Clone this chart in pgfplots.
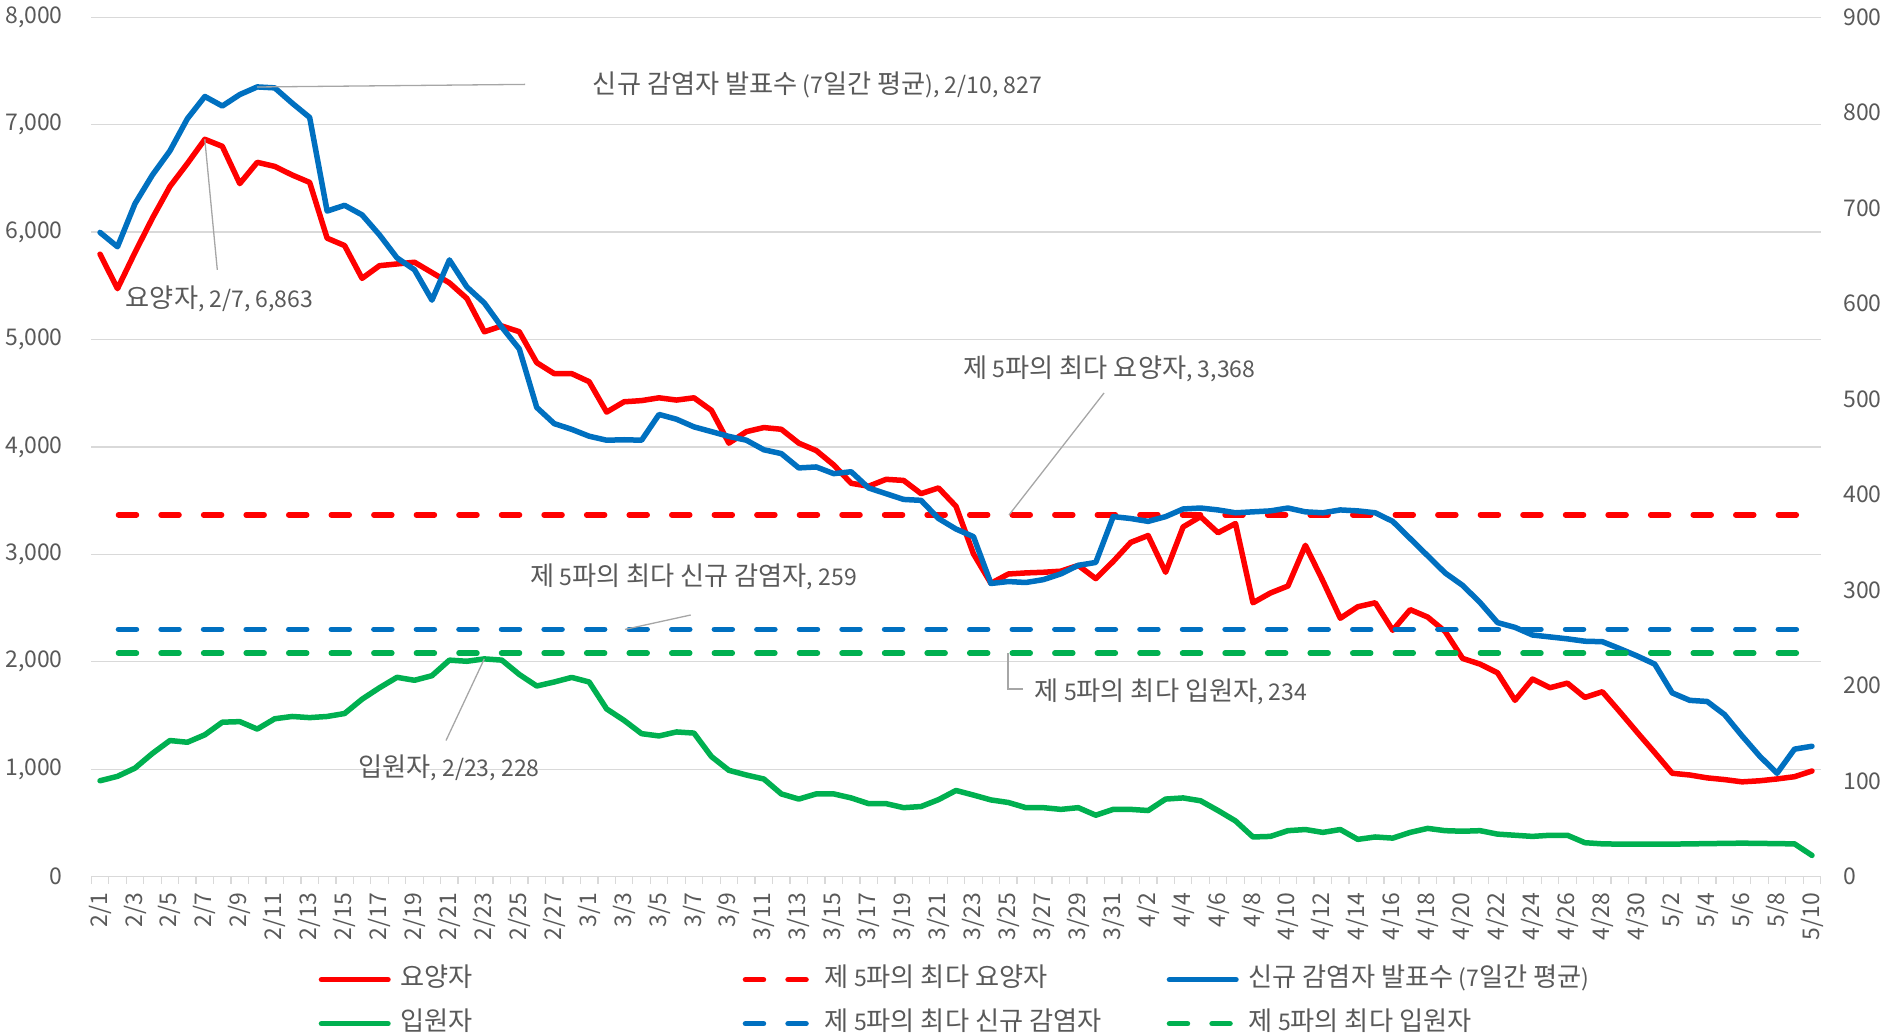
\documentclass[border=0pt]{standalone}
\usepackage{fontspec}
\setmainfont{Noto Sans CJK KR}
\newfontfamily\kr{Noto Sans CJK KR}[Scale=1.14]
\usepackage{pgfplots}
\usepackage{pgfplotstable}
\pgfplotsset{compat=1.18}
\definecolor{cred}{HTML}{FF0000}
\definecolor{cblue}{HTML}{0070C0}
\definecolor{cgreen}{HTML}{00B050}
\definecolor{txt}{HTML}{595959}
\definecolor{gridc}{HTML}{D9D9D9}
\definecolor{lead}{HTML}{A6A6A6}
\newcommand\fs{\fontsize{11.5pt}{13pt}\selectfont}

\pgfplotstableread{
d v
0 5794
1 5473
2 5810
3 6130
4 6424
5 6638
6 6863
7 6798
8 6451
9 6649
10 6611
11 6531
12 6462
13 5943
14 5874
15 5569
16 5687
17 5703
18 5719
19 5623
20 5527
21 5382
22 5072
23 5126
24 5072
25 4784
26 4682
27 4682
28 4607
29 4324
30 4420
31 4431
32 4457
33 4436
34 4457
35 4340
36 4035
37 4142
38 4180
39 4164
40 4035
41 3966
42 3832
43 3661
44 3634
45 3698
46 3688
47 3565
48 3618
49 3447
50 3004
51 2730
52 2817
53 2827
54 2833
55 2843
56 2897
57 2774
58 2934
59 3111
60 3175
61 2833
62 3255
63 3351
64 3201
65 3287
66 2549
67 2640
68 2705
69 3084
70 2753
71 2405
72 2512
73 2549
74 2293
75 2485
76 2416
77 2282
78 2031
79 1978
80 1897
81 1641
82 1839
83 1758
84 1801
85 1668
86 1721
87 1534
88 1342
89 1154
90 962
91 946
92 919
93 903
94 882
95 892
96 909
97 930
98 983
}\tred

\pgfplotstableread{
d v
0 674.6
1 659.6
2 704.7
3 734.8
4 760
5 793.7
6 817
7 807
8 819
9 827
10 826
11 810
12 795
13 697
14 703
15 693
16 672
17 648
18 635.5
19 603.7
20 645.8
21 617.5
22 600.7
23 575.4
24 552.6
25 491.3
26 474.4
27 468.4
28 461.2
29 457
30 457.5
31 457
32 484
33 479
34 471
35 466
36 461
37 457
38 447
39 443
40 428
41 429
42 422
43 424
44 407
45 401
46 395
47 394
48 375
49 364
50 356
51 307
52 309
53 308
54 311
55 317
56 326
57 329
58 377
59 375
60 372
61 377
62 385
63 386
64 384
65 381
66 382
67 383
68 386
69 382
70 381
71 384
72 383
73 381
74 372
75 354
76 336
77 318
78 305
79 287
80 266
81 261
82 253
83 251
84 249
85 246.5
86 246
87 238.7
88 231
89 222.5
90 192.4
91 184.6
92 183.4
93 169.6
94 147.3
95 126.3
96 108.2
97 133.5
98 136.5
}\tblue

\pgfplotstableread{
d v
0 100.4
1 105
2 113.6
3 129
4 142.5
5 140.7
6 148.5
7 161.7
8 162.3
9 154.5
10 165.3
11 167.7
12 166.5
13 167.7
14 170.8
15 185.8
16 197.8
17 208.7
18 205.6
19 210.4
20 226.7
21 225.5
22 228
23 226.7
24 211.7
25 199.6
26 203.8
27 208.6
28 203.8
29 175.6
30 163.6
31 149.7
32 147.3
33 151.5
34 150.3
35 125.7
36 111.3
37 106.4
38 102.2
39 86.6
40 81.2
41 86.6
42 86.6
43 82.4
44 76.4
45 76.4
46 72.2
47 73.4
48 80.6
49 90.2
50 85.4
51 80.3
52 77.6
53 72.2
54 72.2
55 70.4
56 72.2
57 64.3
58 70.4
59 70.4
60 69.2
61 81.2
62 82.4
63 79.4
64 69.2
65 58.3
66 41.5
67 42.1
68 48.1
69 49.3
70 46.3
71 49.3
72 39
73 41.5
74 40.3
75 46.3
76 50.5
77 48.1
78 47.5
79 48.1
80 44.5
81 43.3
82 42.1
83 43.3
84 43.3
85 35.5
86 34.3
87 34
88 34
89 34
90 34
91 34.3
92 34.5
93 34.8
94 35
95 34.8
96 34.5
97 34.3
98 22.2
}\tgreen

\pgfplotstableread{
d v
0 3368
98 3368
}\tredmax
\pgfplotstableread{
d v
0 259
98 259
}\tbluemax
\pgfplotstableread{
d v
0 234
98 234
}\tgreenmax

\pgfplotsset{
  base/.style={scale only axis, width=864.7pt, height=429.7pt,
    at={(45.65pt,78.7pt)}, anchor=south west,
    xmin=-0.5, xmax=98.5, no markers,
    /pgf/number format/assume math mode=true,
    /pgf/number format/1000 sep={,},
    scaled y ticks=false,
    tick label style={font=\fs, text=txt},
    major tick length=0pt,
    every axis plot/.append style={line join=round}},
  sred/.style={draw=cred, line width=2.75pt, line cap=round},
  sblue/.style={draw=cblue, line width=2.75pt, line cap=round},
  sgreen/.style={draw=cgreen, line width=2.75pt, line cap=round},
  dashp/.style={line width=2.75pt, line cap=round, dash pattern=on 9pt off 12.28pt},
}

\begin{document}
\begin{tikzpicture}
\useasboundingbox (0,0) rectangle (949.5pt,517pt);
\begin{axis}[base,
  ymin=0, ymax=8000, ytick={0,1000,...,8000},
  axis x line*=bottom, axis y line*=left,
  y axis line style={draw=none},
  x axis line style={draw=gridc, line width=0.65pt},
  ymajorgrids, major grid style={draw=gridc, line width=0.65pt},
  xtick={0,2,...,98},
  xticklabels={2/1,2/3,2/5,2/7,2/9,2/11,2/13,2/15,2/17,2/19,2/21,2/23,2/25,2/27,
    3/1,3/3,3/5,3/7,3/9,3/11,3/13,3/15,3/17,3/19,3/21,3/23,3/25,3/27,3/29,3/31,
    4/2,4/4,4/6,4/8,4/10,4/12,4/14,4/16,4/18,4/20,4/22,4/24,4/26,4/28,4/30,
    5/2,5/4,5/6,5/8,5/10},
  minor xtick={-0.5,0.5,...,98.5},
  minor tick length=3.5pt, tick align=outside,
  minor tick style={draw=gridc, line width=0.65pt},
  xticklabel style={yshift=-8pt, rotate=90, anchor=east, inner sep=0pt},
  yticklabel style={anchor=east, inner sep=0pt, xshift=-14.1pt},
  legend columns=3,
  legend cell align=left,
  legend image code/.code={\draw[#1] (0pt,0pt) -- (33.25pt,0pt);},
  legend style={at={(0.13152,-0.1072)}, anchor=north west, draw=none, fill=none,
    inner sep=0pt, outer sep=0pt, row sep=11pt, font=\fs, text=txt,
    nodes={inner sep=0pt, text height=9pt, text depth=2pt, anchor=west},
    /tikz/every odd column/.append style={column sep=5pt},
    /tikz/every even column/.append style={column sep=21pt}},
]
\addplot[sred, forget plot] table[x=d, y=v] {\tred};
\addplot[draw=cred, dashp, dash phase=12.055pt, forget plot] table[x=d, y=v] {\tredmax};
\addlegendimage{sred}
\addlegendentry{\makebox[150pt][l]{{\kr 요양자}}}
\addlegendimage{draw=cred, dashp}
\addlegendentry{\makebox[150pt][l]{{\kr 제} 5{\kr 파의 최다 요양자}}}
\addlegendimage{sblue}
\addlegendentry{{\kr 신규 감염자 발표수} (7{\kr 일간 평균})}
\addlegendimage{sgreen}
\addlegendentry{\makebox[150pt][l]{{\kr 입원자}}}
\addlegendimage{draw=cblue, dashp}
\addlegendentry{\makebox[150pt][l]{{\kr 제} 5{\kr 파의 최다 신규 감염자}}}
\addlegendimage{draw=cgreen, dashp}
\addlegendentry{{\kr 제} 5{\kr 파의 최다 입원자}}
\end{axis}
\begin{axis}[base,
  ymin=0, ymax=900, ytick={0,100,...,900},
  hide x axis,
  axis y line*=right,
  y axis line style={draw=none},
  yticklabel style={anchor=west, inner sep=0pt, xshift=11.15pt},
]
\addplot[sblue] table[x=d, y=v] {\tblue};
\addplot[sgreen] table[x=d, y=v] {\tgreen};
\addplot[draw=cblue, dashp, dash phase=12.055pt] table[x=d, y=v] {\tbluemax};
\addplot[draw=cgreen, dashp, dash phase=12.055pt] table[x=d, y=v] {\tgreenmax};
\end{axis}
% data labels with leader lines
\begin{scope}[every node/.style={font=\fs, text=txt, inner sep=0pt}]
\draw[lead, line width=0.65pt] (128.5pt,473.5pt) -- (262.5pt,474.8pt);
\node at (408.75pt,474.5pt) {{\kr 신규 감염자 발표수} (7{\kr 일간 평균}), 2/10, 827};
\draw[lead, line width=0.65pt] (102.4pt,447.35pt) -- (108.65pt,382.1pt);
\node at (109.75pt,367.75pt) {{\kr 요양자}, 2/7, 6,863};
\draw[lead, line width=0.65pt] (242.15pt,187.55pt) -- (223pt,146.75pt);
\node at (224.5pt,133.25pt) {{\kr 입원자}, 2/23, 228};
\draw[lead, line width=0.65pt] (504.5pt,259.5pt) -- (552pt,320.5pt);
\node at (554.75pt,332.5pt) {{\kr 제} 5{\kr 파의 최다 요양자}, 3,368};
\draw[lead, line width=0.65pt] (312.5pt,202.3pt) -- (345.35pt,209.5pt);
\node at (346.75pt,228.5pt) {{\kr 제} 5{\kr 파의 최다 신규 감염자}, 259};
\draw[lead, line width=0.65pt] (504pt,190.4pt) -- (504pt,172.5pt) -- (511.5pt,172.5pt);
\node at (585.5pt,171pt) {{\kr 제} 5{\kr 파의 최다 입원자}, 234};
\end{scope}
\end{tikzpicture}
\end{document}
